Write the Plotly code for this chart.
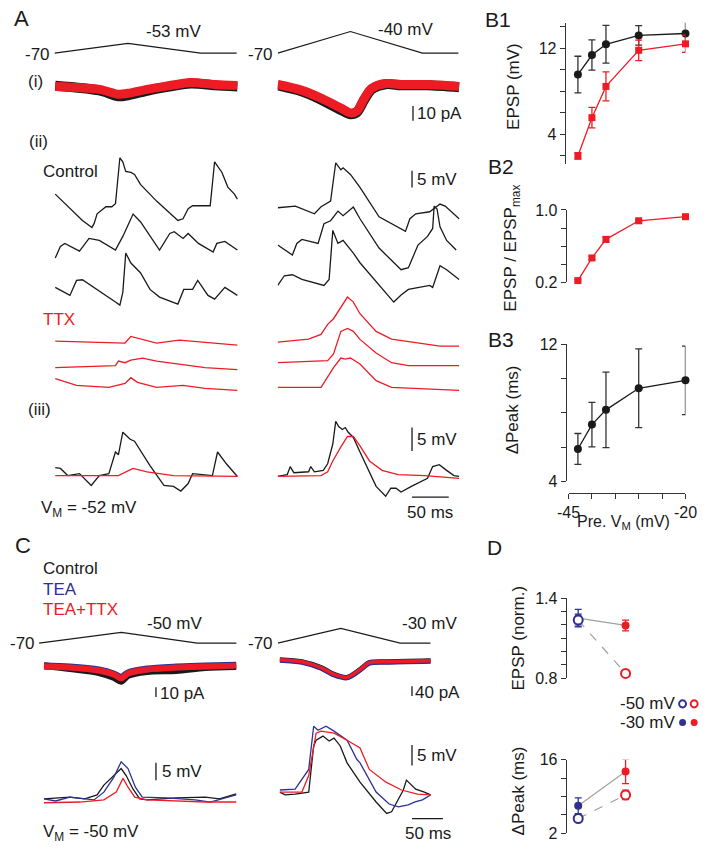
import plotly.graph_objects as go

W, H = 711, 853
FONT = "Liberation Sans, Arial, sans-serif"
BLACK = "#1a1a1a"
RED = "#ED1C24"
BLUE = "#2E3192"
GRAY = "#a0a0a0"
AXC = "#333333"

# ====================== DATA ======================
# ---- Panel A: command ramps (ms, mV)
cmdA_L_t = [0, 100, 199, 248]
cmdA_L_v = [-70, -53, -70, -70]
cmdA_R_t = [0, 99, 197, 246]
cmdA_R_v = [-70, -40, -70, -70]

# ---- A(i) voltage-clamp currents (ms, pA)
Ai_L_t = [1, 61, 87, 100, 126, 150, 186, 218, 249]
Ai_L_ctrl = [0.5, -2.7, -6.7, -6.0, -3.0, -0.7, 2.0, 0.7, 0.0]
Ai_L_ttx = [0.0, -2.0, -5.3, -4.7, -2.0, 0.0, 2.7, 1.3, 0.7]
Ai_R_t = [0, 33, 59, 86, 99, 108, 118, 128, 147, 168, 204, 247]
Ai_R_ctrl = [0.7, -3.5, -9, -16, -19, -17.5, -9, -2, 1.5, 0.8, 0.8, -0.5]
Ai_R_ttx = [1.3, -2.7, -8, -14.7, -18, -16.7, -8, -1.3, 2, 1.3, 1.3, 0]

# ---- A(ii) single sweeps (ms, mV relative to each sweep's minimum)
AiiL_c1_t = [1, 21, 38, 51, 54, 58, 70, 78, 83, 89, 93, 97, 104, 109, 117, 139, 162, 168, 175, 182, 188, 212, 218, 228, 236, 245, 249]
AiiL_c1_v = [10.0, 5.6, 2.1, 0, 1.2, 4.1, 6.2, 6.2, 7.1, 20.9, 19.7, 16.8, 16.5, 15.9, 12.9, 7.9, 3.2, 2.1, 2.6, 5.6, 6.5, 6.5, 19.7, 16.5, 12.1, 10.0, 8.5]
AiiL_c2_t = [1, 8, 14, 34, 47, 61, 83, 93, 107, 111, 117, 143, 157, 163, 175, 182, 196, 216, 221, 232, 249]
AiiL_c2_v = [0, 3.5, 4.4, 2.1, 5.9, 5.3, 2.4, 6.5, 13.2, 12.4, 10.9, 2.4, 7.4, 7.9, 5.9, 7.4, 4.4, 1.8, 4.4, 5.0, 2.4]
AiiL_c3_t = [1, 21, 30, 38, 83, 89, 93, 97, 104, 117, 130, 143, 168, 176, 188, 195, 209, 218, 232, 249]
AiiL_c3_v = [5.3, 2.9, 7.4, 7.6, 0.9, 0, 3.8, 15.6, 12.6, 9.7, 4.7, 2.4, 0.3, 4.7, 4.7, 7.4, 2.9, 1.8, 5.3, 2.9]
AiiL_t1_t = [1, 96, 104, 117, 139, 170, 249]
AiiL_t1_v = [1.2, 0.6, 2.6, 1.8, 0.6, 1.5, 0]
AiiL_t2_t = [1, 83, 87, 96, 104, 120, 139, 205, 249]
AiiL_t2_v = [0.6, 1.2, 2.6, 2.1, 2.9, 3.5, 2.6, 0.6, 0]
AiiL_t3_t = [1, 30, 74, 96, 104, 113, 139, 175, 205, 249]
AiiL_t3_v = [3.5, 1.5, 0.9, 2.1, 3.8, 2.4, 0.9, 1.5, 0.6, 0]

AiiR_c1_t = [0, 20, 24, 50, 59, 72, 79, 86, 89, 99, 112, 138, 174, 180, 188, 207, 221, 228, 247]
AiiR_c1_v = [7.1, 7.4, 7.6, 5.3, 7.4, 9.1, 20.6, 18.5, 19.1, 17.1, 13.2, 4.4, 0, 3.8, 5.3, 5.9, 8.2, 7.6, 3.8]
AiiR_c2_t = [0, 20, 26, 33, 55, 63, 72, 82, 89, 99, 103, 112, 138, 168, 178, 191, 204, 211, 213, 217, 221, 230, 243]
AiiR_c2_v = [7.4, 4.4, 7.9, 9.1, 7.9, 13.8, 14.7, 17.6, 16.2, 18.2, 18.8, 15.3, 6.5, 0, 0.6, 7.4, 10.0, 12.4, 19.1, 18.2, 12.9, 8.8, 5.9]
AiiR_c3_t = [0, 9, 20, 33, 63, 70, 75, 82, 89, 103, 112, 138, 158, 168, 178, 207, 211, 221, 230, 247]
AiiR_c3_v = [5.0, 7.9, 8.2, 6.8, 5.0, 6.8, 21.5, 17.6, 18.5, 14.7, 11.8, 5.0, 0, 2.1, 3.8, 5.0, 4.4, 10.9, 9.7, 6.8]
AiiR_t1_t = [0, 42, 59, 68, 76, 95, 103, 112, 134, 155, 221, 247]
AiiR_t1_v = [1.2, 2.1, 3.5, 6.5, 8.2, 14.7, 13.2, 9.7, 4.4, 2.1, 0, 0]
AiiR_t2_t = [0, 68, 76, 86, 95, 103, 112, 134, 155, 178, 247]
AiiR_t2_v = [0.9, 1.5, 3.5, 10.3, 11.2, 10.3, 7.9, 3.8, 0.9, 0, 0]
AiiR_t3_t = [0, 59, 76, 86, 92, 99, 112, 134, 155, 247]
AiiR_t3_v = [0.9, 0.9, 6.8, 9.7, 9.4, 9.7, 7.9, 2.9, 0.9, 0]

# ---- A(iii) averages (ms, mV)
AiiiL_ctrl_t = [1, 8, 18, 34, 50, 61, 74, 83, 87, 93, 103, 109, 130, 149, 162, 172, 182, 188, 215, 222, 234, 249]
AiiiL_ctrl_v = [1.9, 1.7, 0.2, 0.6, -1.9, 0.2, 0.6, 5.2, 4.6, 9.4, 7.9, 7.5, 2.3, -1.9, -2.1, -3.1, -1.5, 0.6, 0.2, 5.2, 2.7, 0]
AiiiL_ttx_t = [1, 87, 107, 126, 162, 249]
AiiiL_ttx_v = [0.2, 0.2, 1.7, 1.0, 0.2, 0]
AiiiR_ctrl_t = [0, 13, 17, 22, 42, 45, 50, 62, 68, 75, 79, 83, 88, 92, 96, 103, 112, 121, 134, 147, 154, 161, 168, 182, 195, 204, 211, 220, 230, 240, 247]
AiiiR_ctrl_v = [0, 0.4, 2.1, 0.8, 1.0, 2.1, 1.0, 1.3, 2.7, 6.9, 11.7, 10.6, 10.0, 10.4, 9.4, 8.3, 5.2, 2.1, -2.1, -4.2, -2.5, -2.5, -3.3, -2.1, -1.0, -0.4, 2.1, 2.5, 1.3, 0.2, 0]
AiiiR_ttx_t = [0, 59, 68, 75, 86, 95, 103, 112, 125, 142, 164, 200, 247]
AiiiR_ttx_v = [0, 0.2, 1.0, 3.3, 6.3, 8.5, 8.5, 6.5, 3.3, 1.3, 0.4, 0.2, -0.4]

# ---- Panel B (presynaptic Vm, mV)
B_vm = [-43, -40, -37, -30, -20]
B1_ctrl = [9.55, 11.36, 12.36, 13.18, 13.36]
B1_ctrl_err = [1.7, 1.4, 1.75, 0.9, 1.1]
B1_ttx = [2.0, 5.55, 8.45, 11.8, 12.4]
B1_ttx_err = [0.3, 0.95, 1.35, 0.95, 0.8]
B2_norm = [0.22, 0.47, 0.675, 0.88, 0.925]
B2_norm_err = [0.012, 0.02, 0.03, 0.012, 0.01]
B3_dpeak = [5.89, 7.31, 8.17, 9.43, 9.89]
B3_dpeak_err = [0.9, 1.3, 2.2, 2.3, 2.0]

# ---- Panel C command ramps (ms, mV)
cmdC_L_t = [0, 133, 256, 319]
cmdC_L_v = [-70, -50, -70, -70]
cmdC_R_t = [0, 102, 198, 247]
cmdC_R_v = [-70, -30, -70, -70]

# ---- C currents (ms, pA)
CcurL_t = [0, 42, 89, 113, 125, 136, 167, 214, 261, 311]
CcurL_ctrl = [1, -2, -6, -11, -15, -9, -5, -4, -1, 0]
CcurL_tea = [0.5, -0.5, -3.5, -7.5, -11, -6.5, -2.5, -0.5, 0.5, 1.5]
CcurL_ttx = [0, -1, -4, -8, -12, -7, -3, -1, 0, 1]
CcurR_t = [0, 36, 67, 88, 109, 130, 145, 172, 244]
CcurR_ctrl = [4, -4, -28, -56, -68, -36, -8, -4, 0]
CcurR_tea = [2, -6, -30, -58, -70, -38, -10, -6, -2]
CcurR_ttx = [4, -4, -28, -56, -68, -36, -8, -4, 0]

# ---- C voltages (ms, mV)
CvL_ctrl_t = [0, 42, 66, 86, 97, 113, 125, 133, 144, 155, 167, 214, 261, 284, 311]
CvL_ctrl_v = [0.3, 0.8, 0.3, 1.4, 4.2, 6.9, 8.9, 6.9, 3.1, 0.3, 0, 0.6, 0.8, 0.3, 1.7]
CvL_tea_t = [0, 19, 42, 81, 97, 113, 125, 136, 148, 159, 198, 245, 269, 292, 311]
CvL_tea_v = [0.3, -0.3, 0.8, 0, 2.2, 6.4, 10.8, 8.9, 3.6, 0.8, 0.6, 0, -0.6, 0.6, 1.4]
CvL_ttx_t = [0, 58, 97, 117, 128, 136, 147, 167, 261, 311]
CvL_ttx_v = [-0.8, -0.6, 0, 2.2, 6.1, 3.6, 0.8, 0, -0.6, -0.6]
CvR_ctrl_t = [0, 9, 25, 47, 55, 59, 70, 80, 88, 98, 109, 119, 130, 156, 173, 181, 192, 200, 205, 213, 220, 234, 244]
CvR_ctrl_v = [0, -0.7, -0.5, 0, 11.2, 12.6, 13.6, 12.4, 13.1, 11.2, 7.1, 4.8, 2.4, -2.4, -5.2, -4.8, -1.7, 0.5, 2.9, 1.7, 0.7, 0, -0.7]
CvR_tea_t = [0, 25, 47, 55, 62, 75, 88, 109, 125, 130, 156, 177, 192, 208, 219, 231, 244]
CvR_tea_v = [0.5, 0.7, 5.5, 16.0, 15.0, 16.0, 14.8, 12.6, 7.9, 7.1, 0, -2.9, -3.6, -3.1, -2.4, -1.9, -0.7]
CvR_ttx_t = [0, 36, 47, 59, 67, 88, 109, 125, 130, 145, 172, 197, 223, 244]
CvR_ttx_v = [0, 0, 4.0, 14.3, 14.8, 14.3, 12.6, 11.2, 10.7, 5.5, 2.4, 0.5, -0.5, -0.7]

# ---- Panel D (x: 0 = TEA, 1 = TEA+TTX)
D_cond = [0, 1]
D_epsp_m50 = [1.235, 0.837]
D_epsp_m50_err = [0.045, 0.015]
D_epsp_m30 = [1.25, 1.195]
D_epsp_m30_err = [0.065, 0.04]
D_dpk_m50 = [4.8, 9.3]
D_dpk_m50_err = [0.5, 0.9]
D_dpk_m30 = [7.23, 13.76]
D_dpk_m30_err = [1.5, 2.3]

# ====================== FIGURE ======================
fig = go.Figure()
layout = {}
annotations = []
shapes = []


def names(n):
    return ("xaxis" if n == 1 else f"xaxis{n}"), ("yaxis" if n == 1 else f"yaxis{n}")


def refs(n):
    return ("x" if n == 1 else f"x{n}"), ("y" if n == 1 else f"y{n}")


def trace_axes(n, x0, x1, xv0, xppu, y0, y1, yvb, yppu):
    xa, ya = names(n)
    xr, yr = refs(n)
    layout[xa] = dict(domain=[x0 / W, x1 / W], range=[xv0, xv0 + (x1 - x0) / xppu],
                      visible=False, anchor=yr, fixedrange=True)
    layout[ya] = dict(domain=[1 - y1 / H, 1 - y0 / H], range=[yvb, yvb + (y1 - y0) / yppu],
                      visible=False, anchor=xr, fixedrange=True)


def line(n, t, v, color, width=1.3, offset=0.0, dash=None, shape="linear"):
    xr, yr = refs(n)
    fig.add_trace(go.Scatter(x=t, y=[a + offset for a in v], xaxis=xr, yaxis=yr, mode="lines",
                             line=dict(color=color, width=width, dash=dash, shape=shape,
                                       smoothing=0.8 if shape == "spline" else None),
                             hoverinfo="skip"))


def text(x, y, s, size=17, color=BLACK, xanchor="center", angle=0):
    annotations.append(dict(x=x / W, y=1 - y / H, xref="paper", yref="paper", text=s,
                            showarrow=False, xanchor=xanchor, yanchor="middle", textangle=angle,
                            font=dict(family=FONT, size=size, color=color)))


def bar(n, x0, y0, x1, y1):
    xr, yr = refs(n)
    shapes.append(dict(type="line", xref=xr, yref=yr, x0=x0, y0=y0, x1=x1, y1=y1,
                       line=dict(color=BLACK, width=1.3)))


# ---- trace axes (pixel domain, data scale)
trace_axes(1, 44, 240, 0, 0.76, 28, 52, -80.2, 0.588)     # A cmd left
trace_axes(2, 275, 470, 0, 0.76, 18, 52, -78.2, 0.733)    # A cmd right
trace_axes(3, 44, 240, 0, 0.76, 55, 125, -30, 1.5)        # A(i) left
trace_axes(4, 275, 470, 0, 0.76, 55, 125, -30, 1.5)       # A(i) right
trace_axes(5, 44, 240, 0, 0.76, 140, 400, 0, 3.4)         # A(ii) left
trace_axes(6, 275, 470, 0, 0.76, 140, 400, 0, 3.4)        # A(ii) right
trace_axes(7, 44, 240, 0, 0.76, 415, 505, -5.625, 4.8)    # A(iii) left
trace_axes(8, 275, 470, 0, 0.76, 415, 505, -5.625, 4.8)   # A(iii) right
trace_axes(9, 28, 240, 0, 0.64, 625, 655, -82.7, 0.55)    # C cmd left
trace_axes(10, 275, 460, 0, 0.64, 620, 655, -88.7, 0.375) # C cmd right
trace_axes(11, 33, 240, 0, 0.64, 655, 712, -40, 1.0)      # C current left
trace_axes(12, 277, 460, 0, 0.64, 655, 712, -184, 0.25)   # C current right
trace_axes(13, 33, 240, 0, 0.64, 755, 820, -3.33, 3.6)    # C voltage left
trace_axes(14, 277, 460, 0, 0.64, 720, 835, -8.33, 4.2)   # C voltage right

# ---- Panel A
line(1, cmdA_L_t, cmdA_L_v, BLACK, 1.2)
line(2, cmdA_R_t, cmdA_R_v, BLACK, 1.2)
line(3, Ai_L_t, Ai_L_ctrl, BLACK, 10, shape="spline")
line(3, Ai_L_t, Ai_L_ttx, RED, 9, shape="spline")
line(4, Ai_R_t, Ai_R_ctrl, BLACK, 10, shape="spline")
line(4, Ai_R_t, Ai_R_ttx, RED, 9, shape="spline")

offL = [51.8, 42.6, 28.5, 16.5, 9.1, 2.9]
offR = [50.6, 39.1, 29.4, 16.2, 10.3, 2.9]
for (t, v), o in zip([(AiiL_c1_t, AiiL_c1_v), (AiiL_c2_t, AiiL_c2_v), (AiiL_c3_t, AiiL_c3_v)], offL[:3]):
    line(5, t, v, BLACK, 1.3, o)
for (t, v), o in zip([(AiiL_t1_t, AiiL_t1_v), (AiiL_t2_t, AiiL_t2_v), (AiiL_t3_t, AiiL_t3_v)], offL[3:]):
    line(5, t, v, RED, 1.3, o)
for (t, v), o in zip([(AiiR_c1_t, AiiR_c1_v), (AiiR_c2_t, AiiR_c2_v), (AiiR_c3_t, AiiR_c3_v)], offR[:3]):
    line(6, t, v, BLACK, 1.3, o)
for (t, v), o in zip([(AiiR_t1_t, AiiR_t1_v), (AiiR_t2_t, AiiR_t2_v), (AiiR_t3_t, AiiR_t3_v)], offR[3:]):
    line(6, t, v, RED, 1.3, o)

line(7, AiiiL_ctrl_t, AiiiL_ctrl_v, BLACK, 1.3)
line(7, AiiiL_ttx_t, AiiiL_ttx_v, RED, 1.3)
line(8, AiiiR_ctrl_t, AiiiR_ctrl_v, BLACK, 1.3)
line(8, AiiiR_ttx_t, AiiiR_ttx_v, RED, 1.3)

# scale bars A
bar(4, 184.2, -23.3, 184.2, -23.3 + 10)      # 10 pA
bar(6, 182.9, 63.8, 182.9, 63.8 + 5)         # 5 mV
bar(8, 182.9, 5.4, 182.9, 5.4 + 5)           # 5 mV
bar(8, 182.9, -4.375, 182.9 + 50, -4.375)    # 50 ms

# ---- Panel C
line(9, cmdC_L_t, cmdC_L_v, BLACK, 1.2)
line(10, cmdC_R_t, cmdC_R_v, BLACK, 1.2)
line(11, CcurL_t, CcurL_ctrl, BLACK, 7, shape="spline")
line(11, CcurL_t, CcurL_tea, BLUE, 7, shape="spline")
line(11, CcurL_t, CcurL_ttx, RED, 6, shape="spline")
line(12, CcurR_t, CcurR_ctrl, BLACK, 5, shape="spline")
line(12, CcurR_t, CcurR_tea, BLUE, 5, shape="spline")
line(12, CcurR_t, CcurR_ttx, RED, 3.5, shape="spline")
line(13, CvL_ctrl_t, CvL_ctrl_v, BLACK, 1.3)
line(13, CvL_tea_t, CvL_tea_v, BLUE, 1.3)
line(13, CvL_ttx_t, CvL_ttx_v, RED, 1.3)
line(14, CvR_ctrl_t, CvR_ctrl_v, BLACK, 1.3)
line(14, CvR_tea_t, CvR_tea_v, BLUE, 1.3)
line(14, CvR_ttx_t, CvR_ttx_v, RED, 1.3)

bar(11, 181.25, -31, 181.25, -31 + 10)       # 10 pA
bar(12, 214, -144, 214, -144 + 40)           # 40 pA
bar(13, 181.25, 5.56, 181.25, 5.56 + 5)      # 5 mV
bar(14, 214, 6.43, 214, 6.43 + 5)            # 5 mV
bar(14, 214, -6.43, 214 + 50, -6.43)         # 50 ms

TICKFONT = dict(family=FONT, size=16, color=BLACK)


def minor(vals):
    return dict(tickmode="array", tickvals=vals, ticks="outside", ticklen=5, tickwidth=1,
                tickcolor=AXC, showgrid=False)


# ---- visible data axes (B and D)
def yax(n, top, bot, rng, pos, major, labels, minor_vals):
    xa, ya = names(n)
    xr, yr = refs(n)
    layout[ya] = dict(domain=[1 - bot / H, 1 - top / H], range=rng, anchor="free", position=pos / W,
                      showline=True, linecolor=AXC, linewidth=1, ticks="outside", ticklen=5,
                      tickwidth=1, tickcolor=AXC, tickmode="array", tickvals=major,
                      ticktext=labels, showgrid=False, zeroline=False, fixedrange=True,
                      tickfont=TICKFONT, minor=minor(minor_vals))


def xax_hidden(n, x0, x1, rng):
    xa, ya = names(n)
    xr, yr = refs(n)
    layout[xa] = dict(domain=[x0 / W, x1 / W], range=rng, visible=False, anchor=yr, fixedrange=True)


# B1
xax_hidden(15, 576, 697, [-45, -20])
yax(15, 15, 159, [1.27, 14.36], 572, [4, 12], ["4", "12"], [2, 6, 8, 10, 14])
# B2
xax_hidden(16, 576, 697, [-45, -20])
yax(16, 206, 280, [0.2, 1.0], 573, [0.2, 1.0], ["0.2", "1.0"], [0.4, 0.6, 0.8])
# B3
yax(17, 343, 483, [4, 12], 573, [4, 12], ["4", "12"], [6, 8, 10])
layout["xaxis17"] = dict(domain=[576 / W, 697 / W], range=[-45, -20], anchor="free", position=1 - 495 / H,
                         showline=True, linecolor=AXC, linewidth=1, ticks="outside", ticklen=5,
                         tickwidth=1, tickcolor=AXC, tickmode="array",
                         tickvals=[-45, -20], ticktext=["-45", "-20"],
                         showgrid=False, zeroline=False, fixedrange=True, tickfont=TICKFONT,
                         minor=minor([-40, -35, -30, -25]))
# D
xax_hidden(18, 576, 650, [-10 / 49, 64 / 49])
yax(18, 602, 684, [0.8, 1.4], 573, [0.8, 1.4], ["0.8", "1.4"], [0.9, 1.0, 1.1, 1.2, 1.3])
xax_hidden(19, 576, 650, [-10 / 49, 64 / 49])
yax(19, 767, 842, [2, 16], 573, [2, 16], ["2", "16"], [5.5, 9, 12.5])


def pts(n, x, y, err, color, symbol, size, errcolor, lines=True, fill=None, lw=0):
    xr, yr = refs(n)
    fig.add_trace(go.Scatter(
        x=x, y=y, xaxis=xr, yaxis=yr, mode="lines+markers" if lines else "markers",
        line=dict(color=color, width=1.3), cliponaxis=False, hoverinfo="skip",
        marker=dict(symbol=symbol, size=size, color=fill if fill else color,
                    line=dict(color=color, width=lw)),
        error_y=dict(type="data", array=err, color=errcolor, thickness=1.3, width=3.5)))


pts(15, B_vm, B1_ctrl, B1_ctrl_err, BLACK, "circle", 8, "#333333")
pts(15, B_vm, B1_ttx, B1_ttx_err, RED, "square", 7, RED)
pts(16, B_vm, B2_norm, B2_norm_err, RED, "square", 7, RED)
pts(17, B_vm, B3_dpeak, B3_dpeak_err, BLACK, "circle", 8, "#333333")

# D connecting lines
line(18, D_cond, D_epsp_m30, GRAY, 1.2)
line(18, D_cond, D_epsp_m50, GRAY, 1.2, dash="dash")
line(19, D_cond, D_dpk_m30, GRAY, 1.2)
line(19, D_cond, D_dpk_m50, GRAY, 1.2, dash="dash")
for n, m30, e30, m50, e50 in [(18, D_epsp_m30, D_epsp_m30_err, D_epsp_m50, D_epsp_m50_err),
                              (19, D_dpk_m30, D_dpk_m30_err, D_dpk_m50, D_dpk_m50_err)]:
    for i, col in enumerate([BLUE, RED]):
        pts(n, [D_cond[i]], [m30[i]], [e30[i]], col, "circle", 8, col, lines=False)
        pts(n, [D_cond[i]], [m50[i]], [e50[i]], col, "circle", 9, col, lines=False, fill="white", lw=2)

# D legend symbols
for cy, filled in [(710, False), (729, True)]:
    for cx, col in [(694, BLUE), (706, RED)]:
        r = 3.6
        shapes.append(dict(type="circle", xref="paper", yref="paper",
                           x0=(cx - r) / W, x1=(cx + r) / W, y0=1 - (cy + r) / H, y1=1 - (cy - r) / H,
                           line=dict(color=col, width=0 if filled else 2),
                           fillcolor=col if filled else "white"))

# ---- texts
text(10, 11, "A", 22)
text(503, 12, "B1", 21)
text(506, 162, "B2", 21)
text(506, 338, "B3", 21)
text(11, 548, "C", 22)
text(499, 550, "D", 21)

text(167, 24, "-53 mV")
text(407, 22, "-40 mV")
text(41, 47, "-70", xanchor="right")
text(272, 47, "-70", xanchor="right")
text(24, 75, "(i)")
text(27, 136, "(ii)")
text(28, 410, "(iii)")
text(30, 167, "Control", xanchor="left")
text(30, 318, "TTX", color=RED, xanchor="left")
text(28, 511, "V<sub>M</sub> = -52 mV", xanchor="left")
text(417, 108, "10 pA", xanchor="left")
text(417, 175, "5 mV", xanchor="left")
text(417, 440, "5 mV", xanchor="left")
text(433, 515, "50 ms")

text(519, 80, "EPSP (mV)", angle=-90)
text(518, 245, "EPSP / EPSP<sub>max</sub>", angle=-90)
text(518, 410, "ΔPeak (ms)", angle=-90)
text(633, 525, "Pre. V<sub>M</sub> (mV)", size=16)

text(30, 572, "Control", xanchor="left")
text(30, 593, "TEA", color=BLUE, xanchor="left")
text(30, 614, "TEA+TTX", color=RED, xanchor="left")
text(168, 628, "-50 mV")
text(432, 628, "-30 mV")
text(26, 648, "-70", xanchor="right")
text(272, 648, "-70", xanchor="right")
text(151, 699, "10 pA", xanchor="left")
text(415, 698, "40 pA", xanchor="left")
text(153, 779, "5 mV", xanchor="left")
text(417, 763, "5 mV", xanchor="left")
text(431, 842, "50 ms")
text(30, 842, "V<sub>M</sub> = -50 mV", xanchor="left")

text(524, 643, "EPSP (norm.)", angle=-90)
text(524, 799, "ΔPeak (ms)", angle=-90)
text(688, 710, "-50 mV", xanchor="right")
text(688, 729, "-30 mV", xanchor="right")

fig.update_layout(**layout)
fig.update_layout(width=W, height=H, margin=dict(l=0, r=0, t=0, b=0, pad=0), showlegend=False,
                  paper_bgcolor="white", plot_bgcolor="rgba(0,0,0,0)",
                  annotations=annotations, shapes=shapes, font=dict(family=FONT))
fig.write_html("out.html", config={"displayModeBar": False, "staticPlot": True},
               post_script="document.body.style.margin='0';document.body.style.padding='0';"
                           "document.body.style.overflow='hidden';")
